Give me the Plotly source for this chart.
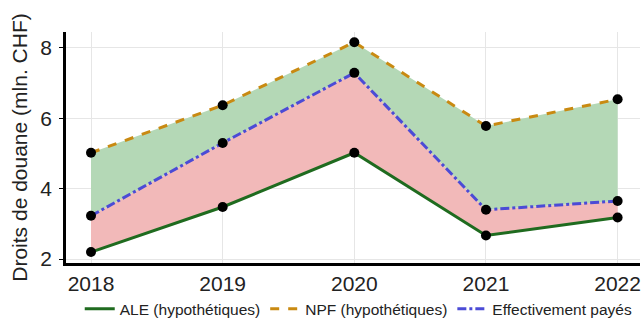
import plotly.graph_objects as go

years = [2018, 2019, 2020, 2021, 2022]
ale = [2.2, 3.48, 5.02, 2.67, 3.18]
npf = [5.02, 6.37, 8.16, 5.78, 6.54]
eff = [3.23, 5.3, 7.29, 3.4, 3.65]

fig = go.Figure()

# fill areas (no legend)
fig.add_trace(go.Scatter(x=years, y=ale, mode='lines', line=dict(width=0),
                         showlegend=False, hoverinfo='skip'))
fig.add_trace(go.Scatter(x=years, y=eff, mode='lines', line=dict(width=0),
                         fill='tonexty', fillcolor='#f2b9b9',
                         showlegend=False, hoverinfo='skip'))
fig.add_trace(go.Scatter(x=years, y=npf, mode='lines', line=dict(width=0),
                         fill='tonexty', fillcolor='#b4d8b6',
                         showlegend=False, hoverinfo='skip'))

# lines
fig.add_trace(go.Scatter(x=years, y=ale, mode='lines', name='ALE (hypothétiques)',
                         line=dict(color='#1f6b1f', width=3)))
fig.add_trace(go.Scatter(x=years, y=npf, mode='lines', name='NPF (hypothétiques)',
                         line=dict(color='#c98a12', width=3, dash='dash')))
fig.add_trace(go.Scatter(x=years, y=eff, mode='lines', name='Effectivement payés',
                         line=dict(color='#4b4bd6', width=3, dash='dashdot')))

# points
for s in [ale, npf, eff]:
    fig.add_trace(go.Scatter(x=years, y=s, mode='markers', showlegend=False,
                             marker=dict(color='black', size=10), hoverinfo='skip'))

fig.update_layout(
    width=643, height=329,
    margin=dict(l=66, r=3, t=32, b=63),
    plot_bgcolor='white', paper_bgcolor='white',
    font=dict(family='Liberation Sans, Arial', color='#222'),
    legend=dict(orientation='h', x=0.51, xanchor='center', y=-0.2, yanchor='middle',
                font=dict(size=15.5), itemwidth=30, traceorder='normal'),
)
fig.update_xaxes(range=[2017.81, 2022.17], tickvals=years, showgrid=True,
                 gridcolor='#e6e6e6', showline=True, linecolor='black', linewidth=2.5,
                 tickfont=dict(size=21), ticks='', automargin=False)
fig.update_yaxes(range=[1.89, 8.45], tickvals=[2, 4, 6, 8], showgrid=True,
                 gridcolor='#e6e6e6', showline=True, linecolor='black', linewidth=2.5,
                 tickfont=dict(size=21), zeroline=False, automargin=False,
                 ticks='outside', ticklen=4, tickcolor='black', ticklabelstandoff=3,
                 title=dict(text='Droits de douane (mln. CHF)', font=dict(size=21), standoff=8))

# drop the default page margin so the figure sits at the window's top-left corner
fig.write_html("out.html", config={'displayModeBar': False},
               post_script="document.body.style.margin='0';")
